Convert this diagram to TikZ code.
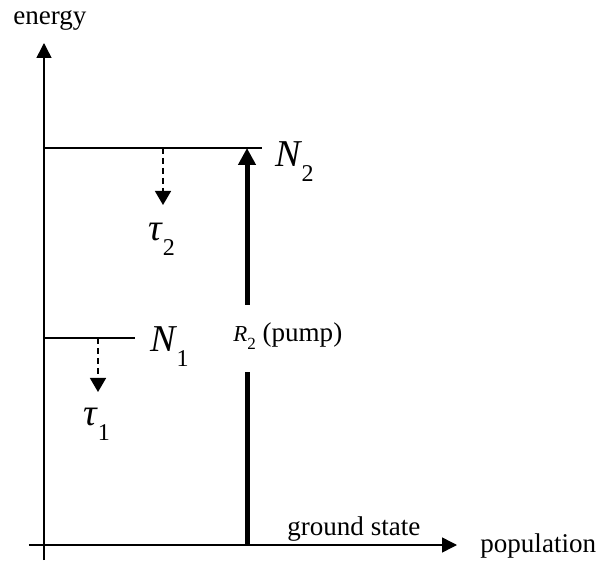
\documentclass[tikz,border=0pt]{standalone}
\usepackage{fontspec}
\setmainfont{Liberation Serif}
\usetikzlibrary{arrows.meta}

% symbol with lowered subscript, as the levels and lifetimes are set
\newcommand{\lvlsym}[2]{{\fontsize{21.6}{24}\selectfont\itshape #1}\kern0.02cm\raisebox{-0.3cm}{\fontsize{13.7}{15}\selectfont #2}}

\begin{document}
\begin{tikzpicture}[every node/.style={font=\fontsize{15.4}{18}\selectfont, inner sep=0pt, anchor=base west},
    axis/.style={line width=0.03cm, -{Triangle[length=0.3cm,width=0.3cm]}},
    level/.style={line width=0.03cm},
    decay/.style={line width=0.03cm, dash pattern=on 0.12cm off 0.08cm, -{Triangle[length=0.28cm,width=0.32cm]}},
    pumpline/.style={line width=0.1cm}]
    \useasboundingbox (-0.88,-0.30) rectangle (11.16,10.90);
    % axes
    \coordinate (ybot) at (0,-0.30);
    \coordinate (ytop) at (0,10.04);
    \coordinate (xleft) at (-0.30,0);
    \coordinate (xright) at (8.26,0);
    \draw[axis] (ybot) -- (ytop);
    \draw[axis] (xleft) -- (xright);
    \node (energy) at (-0.62,10.40) {energy};
    \node (gs) at (4.86,0.20) {ground state};
    \node (pop) at (8.72,-0.14) {population};
    % levels N2 and N1
    \coordinate (n2a) at (0,7.94);
    \coordinate (n2b) at (4.36,7.94);
    \coordinate (n1a) at (0,4.14);
    \coordinate (n1b) at (1.82,4.14);
    \draw[level] (n2a) -- (n2b);
    \draw[level] (n1a) -- (n1b);
    \node (N2) at (4.62,7.56) {\lvlsym{N}{2}};
    \node (N1) at (2.12,3.86) {\lvlsym{N}{1}};
    % decay out of each level
    \coordinate (t2a) at (2.38,7.94);
    \coordinate (t2b) at (2.38,6.80);
    \coordinate (t1a) at (1.08,4.14);
    \coordinate (t1b) at (1.08,3.06);
    \draw[decay] (t2a) -- (t2b);
    \draw[decay] (t1a) -- (t1b);
    \node (tau2) at (2.08,6.08) {\lvlsym{τ}{2}};
    \node (tau1) at (0.78,2.40) {\lvlsym{τ}{1}};
    % pump from ground state to N2
    \coordinate (pa) at (4.06,0);
    \coordinate (pb) at (4.06,3.46);
    \coordinate (pc) at (4.06,4.80);
    \coordinate (pd) at (4.06,7.94);
    \draw[pumpline] (pa) -- (pb);
    \draw[pumpline, -{Triangle[length=0.34cm,width=0.34cm]}] (pc) -- (pd);
    \node (R2) at (3.78,4.06) {{\fontsize{13}{15}\selectfont\itshape R}\raisebox{-0.16cm}{\fontsize{9.7}{11}\selectfont 2} (pump)};
\end{tikzpicture}
\end{document}
